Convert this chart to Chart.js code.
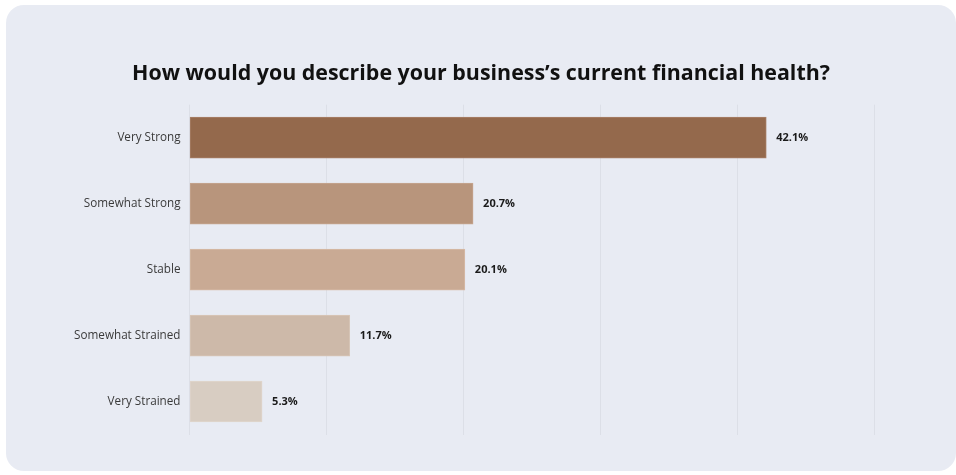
<!DOCTYPE html>
<html>
<head>
<meta charset="utf-8">
<script src="https://cdn.jsdelivr.net/npm/chart.js@4.4.1/dist/chart.umd.min.js"></script>
<style>
  html, body { margin: 0; padding: 0; background: #ffffff; }
  body { width: 956px; height: 475px; position: relative; overflow: hidden; }
  .card {
    position: absolute; left: 6px; top: 5px; width: 950px; height: 466px;
    background: #e8ebf3; border-radius: 18px;
  }
  #healthChart { position: absolute; left: 0; top: 0; }
</style>
</head>
<body>
<div class="card"></div>
<canvas id="healthChart" width="956" height="475"></canvas>
<script>
// Survey answers, share of respondents in percent
const categories = ['Very Strong', 'Somewhat Strong', 'Stable', 'Somewhat Strained', 'Very Strained'];
const shares = [42.1, 20.7, 20.1, 11.7, 5.3];
const barColors = ['#94694c', '#b8957c', '#c9aa94', '#cdb9a9', '#d8cdc2'];
const barEdges = ['#a88068', '#c6a690', '#d6baa6', '#d8c7b9', '#e0d6cd'];
const gridTicks = [0, 10, 20, 30, 40, 50];

// writes the percentage just past the end of each bar
const valueLabels = {
    id: 'valueLabels',
    afterDatasetsDraw(chart) {
        const ctx = chart.ctx;
        const meta = chart.getDatasetMeta(0);
        ctx.save();
        ctx.font = 'bold 11px "Open Sans"';
        ctx.fillStyle = '#1a1a1a';
        ctx.textAlign = 'left';
        ctx.textBaseline = 'middle';
        meta.data.forEach(function(bar, i) {
            ctx.fillText(shares[i].toFixed(1) + '%', bar.x + 10, bar.y);
        });
        ctx.restore();
    }
};

document.addEventListener('DOMContentLoaded', function() {
    const ctx = document.getElementById('healthChart').getContext('2d');
    new Chart(ctx, {
        type: 'bar',
        data: {
            labels: categories,
            datasets: [{
                data: shares,
                backgroundColor: barColors,
                borderColor: barEdges,
                borderWidth: 1,
                borderSkipped: false,
                barThickness: 41
            }]
        },
        options: {
            indexAxis: 'y',
            responsive: false,
            animation: false,
            layout: {
                padding: { top: 0, right: 0, bottom: 40.5, left: 6 }
            },
            plugins: {
                legend: { display: false },
                tooltip: { enabled: false },
                title: {
                    display: true,
                    text: 'How would you describe your business\u2019s current financial health?',
                    color: '#111111',
                    font: { family: 'Open Sans', size: 21.4, weight: 'bold' },
                    padding: { top: 61, bottom: 18 }
                }
            },
            scales: {
                x: {
                    min: 0,
                    max: 50,
                    afterBuildTicks: function(scale) {
                        scale.ticks = gridTicks.map(function(v) { return { value: v }; });
                    },
                    ticks: { display: false },
                    grid: { color: '#dcdfe7', lineWidth: 1, drawTicks: false },
                    border: { display: false }
                },
                y: {
                    afterFit: function(scale) { scale.width = 183.5; },
                    ticks: {
                        color: '#3a3a3a',
                        padding: 9,
                        font: { family: 'Open Sans', size: 11.7 }
                    },
                    grid: { display: false, drawTicks: false },
                    border: { display: false }
                },
                // empty right-hand axis, only holds the space right of the plot
                yRight: {
                    type: 'category',
                    labels: categories,
                    position: 'right',
                    afterFit: function(scale) { scale.width = 81.5; },
                    ticks: { display: false },
                    grid: { display: false, drawTicks: false },
                    border: { display: false }
                }
            }
        },
        plugins: [valueLabels]
    });
});
</script>
</body>
</html>
